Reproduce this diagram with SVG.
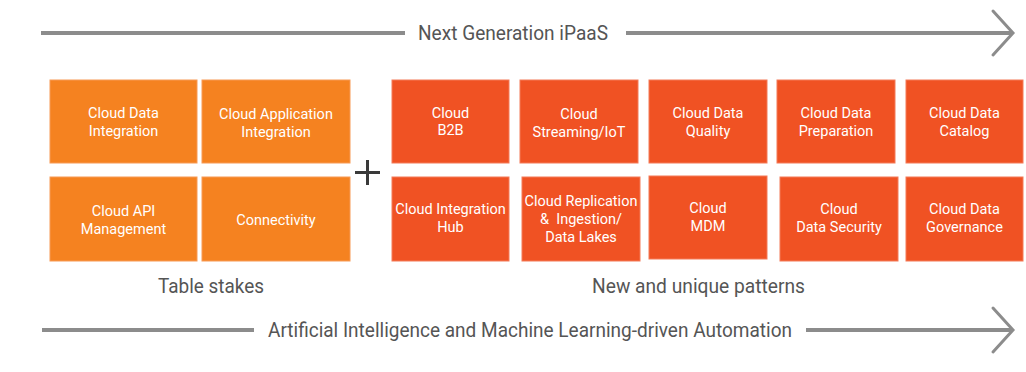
<svg xmlns="http://www.w3.org/2000/svg" width="1026" height="372" viewBox="0 0 1026 372">
<style>
.bg{fill:#ffffff}
.ts rect{fill:#F58220;stroke:#F79A55;stroke-width:1}
.np rect{fill:#F05223;stroke:#F47A58;stroke-width:1}
.bt{font-family:Roboto,"Liberation Sans",sans-serif;font-size:14.5px;fill:#ffffff;text-anchor:middle}
.lbl{font-family:Roboto,"Liberation Sans",sans-serif;font-size:19.5px;fill:#555555;text-anchor:middle}
.axis{stroke:#8c8c8c;stroke-width:4;fill:none}
.chev{stroke:#8c8c8c;stroke-width:3;fill:none;stroke-linecap:round;stroke-linejoin:miter}
.plus{stroke:#3a3a3a;stroke-width:3}
</style>
<rect class="bg" x="0" y="0" width="1026" height="372"/>
<g id="connectors">
  <line class="axis" x1="41" y1="33" x2="405" y2="33"/>
  <line class="axis" x1="626" y1="33" x2="1012" y2="33"/>
  <polyline class="chev" points="993,11 1013,33 993,55"/>
  <line class="axis" x1="42" y1="330" x2="254" y2="330"/>
  <line class="axis" x1="806" y1="330" x2="1012" y2="330"/>
  <polyline class="chev" points="993,308 1013,330 993,352"/>
</g>
<g id="top-label"><text class="lbl" x="513" y="40" textLength="190" lengthAdjust="spacingAndGlyphs">Next Generation iPaaS</text></g>
<g id="bottom-label"><text class="lbl" x="530" y="337" textLength="524" lengthAdjust="spacingAndGlyphs">Artificial Intelligence and Machine Learning-driven Automation</text></g>
<g id="plus"><line class="plus" x1="355" y1="172.5" x2="380" y2="172.5"/><line class="plus" x1="367.5" y1="160" x2="367.5" y2="185"/></g>
<g class="ts">
  <g id="n-cdi"><rect x="50" y="80" width="147" height="83"/><text class="bt" x="123.5" y="118">Cloud Data</text><text class="bt" x="123.5" y="136">Integration</text></g>
  <g id="n-cai"><rect x="202" y="80" width="148" height="83"/><text class="bt" x="276" y="119">Cloud Application</text><text class="bt" x="276" y="137">Integration</text></g>
  <g id="n-api"><rect x="50" y="177" width="147" height="84"/><text class="bt" x="123.5" y="216">Cloud API</text><text class="bt" x="123.5" y="234">Management</text></g>
  <g id="n-conn"><rect x="202" y="177" width="148" height="84"/><text class="bt" x="276" y="225">Connectivity</text></g>
</g>
<g class="np">
  <g id="n-b2b"><rect x="392" y="80" width="117" height="83"/><text class="bt" x="450.5" y="118">Cloud</text><text class="bt" x="450.5" y="135">B2B</text></g>
  <g id="n-iot"><rect x="520" y="80" width="118" height="83"/><text class="bt" x="579" y="119">Cloud</text><text class="bt" x="579" y="137">Streaming/IoT</text></g>
  <g id="n-dq"><rect x="649" y="80" width="118" height="83"/><text class="bt" x="708" y="118">Cloud Data</text><text class="bt" x="708" y="136">Quality</text></g>
  <g id="n-prep"><rect x="777" y="80" width="118" height="83"/><text class="bt" x="836" y="118">Cloud Data</text><text class="bt" x="836" y="136">Preparation</text></g>
  <g id="n-cat"><rect x="906" y="80" width="117" height="83"/><text class="bt" x="964.5" y="118">Cloud Data</text><text class="bt" x="964.5" y="136">Catalog</text></g>
  <g id="n-hub"><rect x="392" y="177" width="117" height="84"/><text class="bt" x="450.5" y="214">Cloud Integration</text><text class="bt" x="450.5" y="232">Hub</text></g>
  <g id="n-repl"><rect x="522" y="177" width="118" height="84"/><text class="bt" x="581" y="206">Cloud Replication</text><text class="bt" x="581" y="224" xml:space="preserve">&amp;  Ingestion/</text><text class="bt" x="581" y="242">Data Lakes</text></g>
  <g id="n-mdm"><rect x="649" y="176" width="118" height="83"/><text class="bt" x="708" y="213">Cloud</text><text class="bt" x="708" y="231">MDM</text></g>
  <g id="n-sec"><rect x="780" y="177" width="118" height="84"/><text class="bt" x="839" y="214">Cloud</text><text class="bt" x="839" y="232">Data Security</text></g>
  <g id="n-gov"><rect x="906" y="177" width="117" height="84"/><text class="bt" x="964.5" y="214">Cloud Data</text><text class="bt" x="964.5" y="232">Governance</text></g>
</g>
<g id="label-ts"><text class="lbl" x="211" y="293" textLength="106" lengthAdjust="spacingAndGlyphs">Table stakes</text></g>
<g id="label-np"><text class="lbl" x="698.5" y="293" textLength="213" lengthAdjust="spacingAndGlyphs">New and unique patterns</text></g>
</svg>
